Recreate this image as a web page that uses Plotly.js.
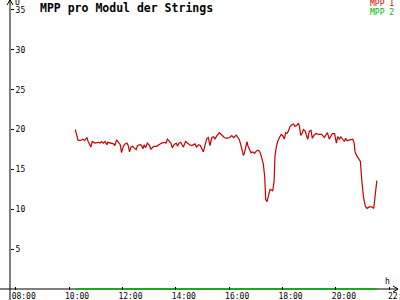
<!DOCTYPE html>
<html>
<head>
<meta charset="utf-8">
<script src="https://cdn.plot.ly/plotly-3.0.1.min.js"></script>
<style>html,body{margin:0;padding:0;background:#fff;}#chart{width:400px;height:300px;}</style>
</head>
<body>
<div id="chart"></div>
<script>
const DAY = '2024-01-01 ';
const times1 = ['10:14','10:20','10:25','10:31','10:35','10:40','10:43','10:47','10:49','10:52','10:58','11:06','11:10','11:13','11:17','11:21','11:25','11:27','11:32','11:40','11:43','11:47','11:51','11:55','11:58','12:02','12:06','12:10','12:13','12:16','12:19','12:23','12:26','12:31','12:34','12:40','12:43','12:46','12:49','12:52','12:56','13:01','13:04','13:10','13:17','13:22','13:28','13:34','13:38','13:41','13:45','13:49','13:52','13:56','14:01','14:04','14:07','14:11','14:15','14:17','14:22','14:26','14:31','14:36','14:40','14:43','14:47','14:51','14:55','14:58','15:02','15:06','15:10','15:13','15:17','15:21','15:25','15:28','15:32','15:38','15:43','15:49','15:55','16:01','16:06','16:10','16:16','16:19','16:23','16:26','16:28','16:32','16:34','16:37','16:40','16:42','16:46','16:49','16:53','16:57','17:01','17:04','17:08','17:11','17:14','17:17','17:20','17:22','17:25','17:27','17:30','17:32','17:36','17:38','17:41','17:43','17:46','17:49','17:53','17:57','18:01','18:04','18:07','18:10','18:13','18:17','18:21','18:25','18:28','18:32','18:36','18:38','18:41','18:44','18:47','18:51','18:55','18:57','19:00','19:04','19:07','19:11','19:15','19:21','19:28','19:34','19:38','19:41','19:45','19:49','19:52','19:57','20:01','20:04','20:08','20:11','20:16','20:19','20:22','20:25','20:31','20:38','20:41','20:43','20:47','20:51','20:55','20:58','21:02','21:06','21:10','21:15','21:21','21:25','21:27','21:29','21:32'];
const mpp1 = [20.0,18.7,18.6,18.8,18.6,19.0,18.5,18.0,17.8,18.5,18.3,18.4,18.3,18.5,18.3,18.5,18.1,18.4,18.3,18.2,18.0,18.7,18.4,18.1,17.1,17.9,18.2,18.3,18.0,17.2,17.8,17.9,17.7,17.5,18.0,18.1,18.0,17.6,18.1,17.7,18.3,18.0,17.5,17.9,17.9,18.1,18.3,18.4,18.3,18.8,18.5,18.3,17.7,18.1,18.3,17.9,18.3,18.4,18.0,17.8,18.5,18.3,18.1,18.0,18.1,18.2,17.8,18.1,18.0,17.7,17.2,18.1,18.9,19.0,18.0,19.0,19.1,18.8,19.2,19.6,19.3,19.0,18.9,19.0,19.25,19.0,19.3,19.0,18.7,18.1,17.5,16.75,17.0,17.9,18.5,18.0,17.5,17.1,17.2,17.0,17.3,17.4,17.3,16.9,16.25,15.6,14.0,11.25,10.95,11.4,12.1,12.5,12.4,12.3,13.5,16.7,17.8,18.5,19.0,19.4,19.2,18.8,19.6,19.5,19.8,20.4,20.6,20.7,20.4,20.5,20.8,20.4,19.25,19.5,20.0,19.8,19.0,18.8,19.8,19.9,18.9,19.3,19.5,19.4,19.4,19.0,19.4,19.6,18.8,19.2,19.5,19.5,18.3,19.1,18.8,19.1,18.7,18.5,18.9,18.6,18.7,18.8,18.3,17.2,16.7,16.25,16.0,13.75,11.5,10.4,10.1,10.3,10.3,10.1,11.0,12.5,13.6];
const times2 = ['10:14','21:32'];
const mpp2 = [0, 0];
const xTickTimes = ['08:00','10:00','12:00','14:00','16:00','18:00','20:00','22:00'];
const yTickVals = [5,10,15,20,25,30,35];
const seriesNames = ['MPP 1','MPP 2'];
const titleText = 'MPP pro Modul der Strings';

const RED = '#c80000', GREEN = '#00b400';
const FONT = 'DejaVu Sans Mono';
const PW = 388, PH = 290;
const px = v => v / PW, py = v => v / PH;

const traces = [
  {x: times1.map(t => DAY + t), y: mpp1, type: 'scatter', mode: 'lines', name: seriesNames[0],
   line: {color: RED, width: 1.2}, showlegend: false},
  {x: times2.map(t => DAY + t), y: mpp2, type: 'scatter', mode: 'lines', name: seriesNames[1],
   line: {color: GREEN, width: 1.5}, showlegend: false}
];

const layout = {
  width: 400, height: 300,
  margin: {l: 10, r: 2, t: 0, b: 10, pad: 0},
  paper_bgcolor: '#ffffff', plot_bgcolor: '#ffffff',
  showlegend: false,
  title: {text: titleText, x: 0.1, xanchor: 'left', y: 1 - 7.5/300, yanchor: 'middle',
          font: {family: FONT, size: 11.5, color: '#000', weight: 'bold'}},
  xaxis: {type: 'date', range: [DAY + '07:47:12', DAY + '22:19:36'],
          tickvals: xTickTimes.map(t => DAY + t), ticktext: xTickTimes,
          showgrid: false, zeroline: false, showline: false,
          ticks: 'inside', ticklen: 3, tickcolor: '#000', tickwidth: 1,
          ticklabelshift: 8, ticklabelstandoff: 0,
          tickfont: {family: FONT, size: 8, color: '#000'}, fixedrange: true},
  yaxis: {range: [-0.125, 36.25], tickvals: yTickVals, ticktext: yTickVals.map(String),
          side: 'right', anchor: 'free', position: 0,
          showgrid: false, zeroline: false, showline: false,
          ticks: 'outside', ticklen: 3, tickcolor: '#000', tickwidth: 1,
          tickfont: {family: FONT, size: 8, color: '#000'}, fixedrange: true},
  shapes: [
    {type: 'line', layer: 'below', xref: 'paper', yref: 'y', x0: -px(10), x1: 1, y0: 0, y1: 0, line: {color: '#000', width: 1}},
    {type: 'line', layer: 'below', xref: 'paper', yref: 'paper', x0: 0, x1: 0, y0: -py(10), y1: 1, line: {color: '#000', width: 1}},
    {type: 'path', xref: 'paper', yref: 'paper',
     path: `M ${1-px(5)} ${py(4)} L 1 ${py(1)} L ${1-px(5)} ${-py(2)}`, line: {color: '#000', width: 1}},
    {type: 'path', xref: 'paper', yref: 'paper',
     path: `M ${-px(3)} ${1-py(5)} L 0 1 L ${px(3)} ${1-py(5)}`, line: {color: '#000', width: 1}}
  ],
  annotations: [
    {text: 'U', xref: 'paper', yref: 'paper', x: px(3), y: 1 - py(2), xanchor: 'left', yanchor: 'middle',
     showarrow: false, font: {family: FONT, size: 8, color: '#000'}},
    {text: 'h', xref: 'paper', yref: 'paper', x: px(377), y: py(9), xanchor: 'center', yanchor: 'middle',
     showarrow: false, font: {family: FONT, size: 8, color: '#000'}},
    {text: xTickTimes[7], xref: 'x', yref: 'paper', x: DAY + '21:53', y: -py(6), xanchor: 'left', yanchor: 'middle',
     showarrow: false, font: {family: FONT, size: 8, color: '#000'}},
    {text: seriesNames[0], xref: 'paper', yref: 'paper', x: px(386), y: 1 - py(3.5), xanchor: 'right', yanchor: 'middle',
     showarrow: false, font: {family: FONT, size: 8, color: RED}},
    {text: seriesNames[1], xref: 'paper', yref: 'paper', x: px(386), y: 1 - py(12.5), xanchor: 'right', yanchor: 'middle',
     showarrow: false, font: {family: FONT, size: 8, color: GREEN}}
  ]
};

Plotly.newPlot('chart', traces, layout, {staticPlot: true, displayModeBar: false});
</script>
</body>
</html>
